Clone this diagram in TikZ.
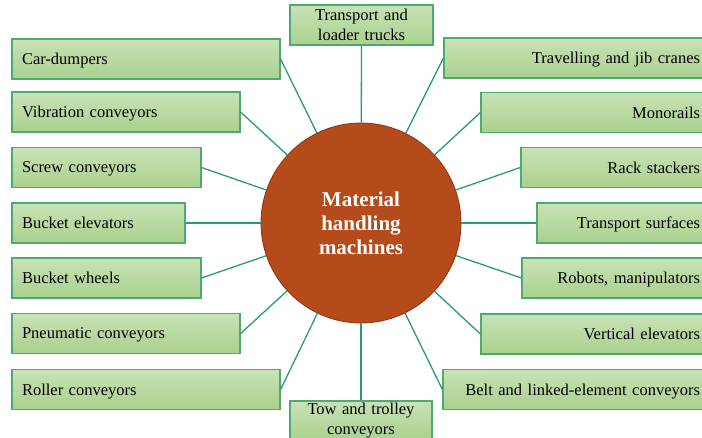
\documentclass[tikz,border=0pt]{standalone}
\usepackage{fontspec}
\setmainfont{Liberation Serif}
\definecolor{boxtop}{HTML}{C8E2B6}
\definecolor{boxbot}{HTML}{A9D18E}
\definecolor{boxline}{HTML}{4FAA72}
\definecolor{linkcol}{HTML}{2A9A7A}
\definecolor{hubfill}{HTML}{B54A1A}
\definecolor{hubline}{HTML}{8C3512}
\tikzset{
  box/.style={rectangle, draw=boxline, line width=1.2pt, top color=boxtop, bottom color=boxbot,
    minimum height=40pt, inner ysep=0pt, font=\fontsize{16.5}{20}\selectfont},
  lbox/.style={box, inner xsep=10pt, align=left, text depth=0pt},
  rbox/.style={box, inner xsep=3pt, align=right, text depth=0pt},
  cbox/.style={box, inner xsep=2pt, align=center},
  hub/.style={circle, fill=hubfill, draw=hubline, line width=0.8pt, minimum size=200pt, inner sep=0pt},
  link/.style={draw=linkcol, line width=1.3pt}
}
\begin{document}
\begin{tikzpicture}[x=1pt,y=-1pt]
\useasboundingbox (0,0) rectangle (702,438);
\begin{scope}
\clip (0,0) rectangle (702,438);
% central hub
\node[hub] (c) at (361,223) {};
\node[text=white, align=center, font=\fontsize{21}{24}\selectfont\bfseries] (ct) at (361,223) {Material\\handling\\machines};

% left column
\node[lbox, text width=248pt] (cd)    at (146,59)    {Car-dumpers};
\node[lbox, text width=208pt] (vib)   at (126,112)   {Vibration conveyors};
\node[lbox, text width=169pt] (screw) at (106.5,167.5) {Screw conveyors};
\node[lbox, text width=153pt] (belev) at (98.5,223)  {Bucket elevators};
\node[lbox, text width=169pt] (bwh)   at (106.5,278) {Bucket wheels};
\node[lbox, text width=208pt] (pneu)  at (126,333.5) {Pneumatic conveyors};
\node[lbox, text width=248pt] (roll)  at (146,389.5) {Roller conveyors};

% right column
\node[rbox, text width=253pt] (trav)  at (573.5,58)    {Travelling and jib cranes};
\node[rbox, text width=216pt] (mono)  at (592,112.5)   {Monorails};
\node[rbox, text width=176pt] (rack)  at (612,167.5)   {Rack stackers};
\node[rbox, text width=160pt] (tsurf) at (620,223)     {Transport surfaces};
\node[rbox, text width=175pt] (robot) at (612.5,278)   {Robots, manipulators};
\node[rbox, text width=216pt] (vert)  at (592,334)     {Vertical elevators};
\node[rbox, text width=254pt] (belt)  at (573,389.5)   {Belt and linked-element conveyors};

% top and bottom
\node[cbox, text width=139pt] (top) at (361.5,25)  {Transport and\\loader trucks};
\node[cbox, text width=138pt] (bot) at (361,421)   {Tow and trolley\\conveyors};

% connectors
\foreach \n in {cd,vib,screw,belev,bwh,pneu,roll}
  \draw[link] (\n.east) -- (c);
\foreach \n in {trav,mono,rack,tsurf,robot,vert,belt}
  \draw[link] (\n.west) -- (c);
\draw[link] (top.south) -- (c);
\draw[link] (bot.north) -- (c);
\end{scope}
\end{tikzpicture}
\end{document}
